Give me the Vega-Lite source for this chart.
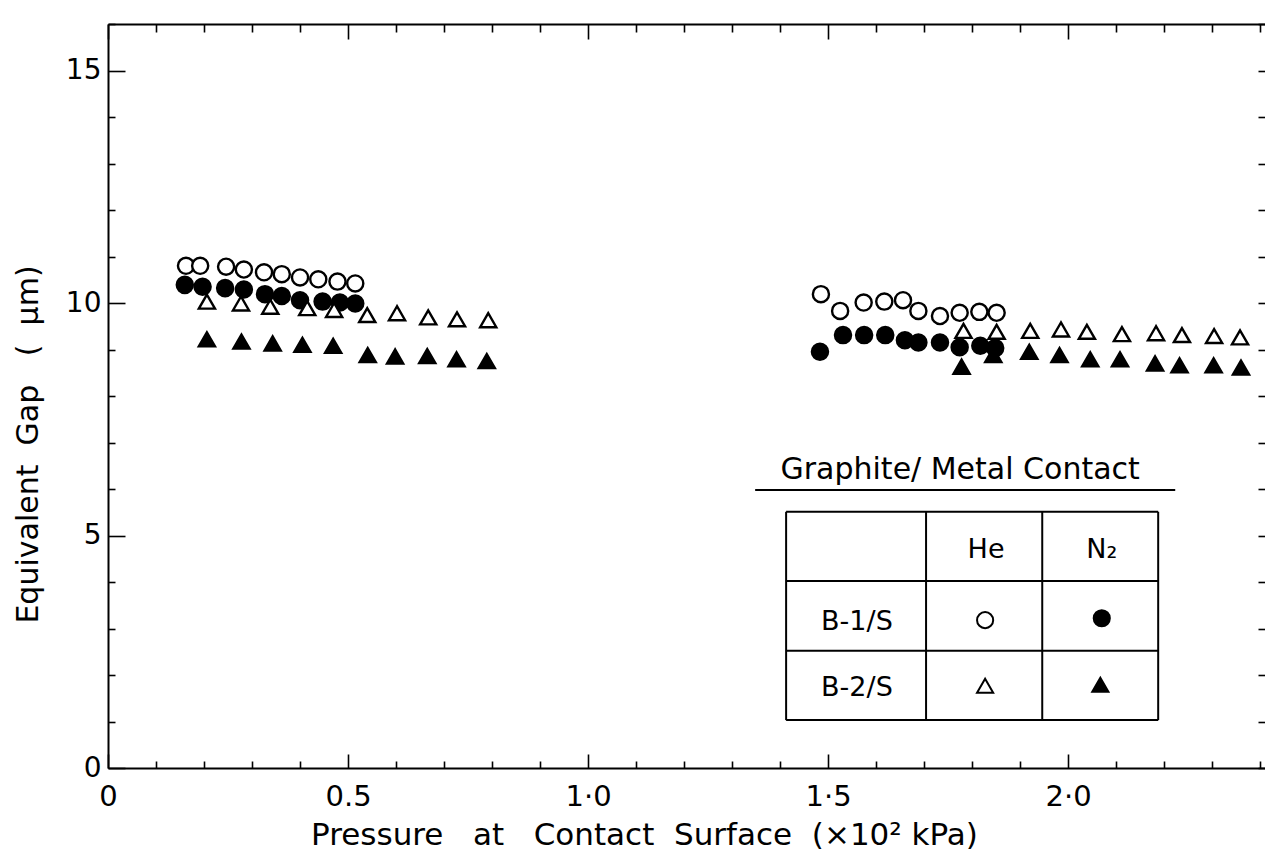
{
  "$schema": "https://vega.github.io/schema/vega-lite/v6.json",
  "width": 1157,
  "height": 744,
  "padding": {"left": 108, "top": 24, "right": 0, "bottom": 87},
  "autosize": {"type": "none"},
  "background": "white",
  "config": {
    "view": {"stroke": null},
    "font": "DejaVu Sans",
    "axis": {"grid": false, "domainColor": "black", "domainWidth": 2, "tickColor": "black", "tickWidth": 1.6, "labelColor": "black", "titleColor": "black", "labelFont": "DejaVu Sans", "titleFont": "DejaVu Sans", "labelFontWeight": "normal", "titleFontWeight": "normal", "labelOverlap": false, "labelFlush": false}
  },
  "datasets": {
    "pts": [
      {"p": 0.160, "gap": 10.39, "s": "B-1/S N2"}, {"p": 0.197, "gap": 10.35, "s": "B-1/S N2"}, {"p": 0.244, "gap": 10.32, "s": "B-1/S N2"}, {"p": 0.283, "gap": 10.29, "s": "B-1/S N2"}, {"p": 0.327, "gap": 10.19, "s": "B-1/S N2"}, {"p": 0.362, "gap": 10.15, "s": "B-1/S N2"}, {"p": 0.400, "gap": 10.06, "s": "B-1/S N2"}, {"p": 0.447, "gap": 10.03, "s": "B-1/S N2"}, {"p": 0.483, "gap": 10.01, "s": "B-1/S N2"}, {"p": 0.515, "gap": 9.99, "s": "B-1/S N2"},
      {"p": 1.483, "gap": 8.95, "s": "B-1/S N2"}, {"p": 1.531, "gap": 9.31, "s": "B-1/S N2"}, {"p": 1.575, "gap": 9.31, "s": "B-1/S N2"}, {"p": 1.619, "gap": 9.31, "s": "B-1/S N2"}, {"p": 1.660, "gap": 9.20, "s": "B-1/S N2"}, {"p": 1.688, "gap": 9.15, "s": "B-1/S N2"}, {"p": 1.733, "gap": 9.15, "s": "B-1/S N2"}, {"p": 1.774, "gap": 9.05, "s": "B-1/S N2"}, {"p": 1.817, "gap": 9.08, "s": "B-1/S N2"}, {"p": 1.848, "gap": 9.03, "s": "B-1/S N2"},
      {"p": 0.206, "gap": 9.22, "s": "B-2/S N2"}, {"p": 0.278, "gap": 9.17, "s": "B-2/S N2"}, {"p": 0.343, "gap": 9.13, "s": "B-2/S N2"}, {"p": 0.405, "gap": 9.10, "s": "B-2/S N2"}, {"p": 0.469, "gap": 9.08, "s": "B-2/S N2"}, {"p": 0.541, "gap": 8.88, "s": "B-2/S N2"}, {"p": 0.598, "gap": 8.85, "s": "B-2/S N2"}, {"p": 0.665, "gap": 8.86, "s": "B-2/S N2"}, {"p": 0.726, "gap": 8.79, "s": "B-2/S N2"}, {"p": 0.789, "gap": 8.75, "s": "B-2/S N2"},
      {"p": 1.778, "gap": 8.63, "s": "B-2/S N2"}, {"p": 1.844, "gap": 8.88, "s": "B-2/S N2"}, {"p": 1.919, "gap": 8.95, "s": "B-2/S N2"}, {"p": 1.982, "gap": 8.88, "s": "B-2/S N2"}, {"p": 2.046, "gap": 8.79, "s": "B-2/S N2"}, {"p": 2.108, "gap": 8.79, "s": "B-2/S N2"}, {"p": 2.181, "gap": 8.70, "s": "B-2/S N2"}, {"p": 2.232, "gap": 8.66, "s": "B-2/S N2"}, {"p": 2.303, "gap": 8.66, "s": "B-2/S N2"}, {"p": 2.360, "gap": 8.61, "s": "B-2/S N2"},
      {"p": 0.1625, "gap": 10.80, "s": "B-1/S He"}, {"p": 0.192, "gap": 10.80, "s": "B-1/S He"}, {"p": 0.246, "gap": 10.78, "s": "B-1/S He"}, {"p": 0.283, "gap": 10.72, "s": "B-1/S He"}, {"p": 0.325, "gap": 10.66, "s": "B-1/S He"}, {"p": 0.362, "gap": 10.62, "s": "B-1/S He"}, {"p": 0.400, "gap": 10.55, "s": "B-1/S He"}, {"p": 0.438, "gap": 10.51, "s": "B-1/S He"}, {"p": 0.478, "gap": 10.46, "s": "B-1/S He"}, {"p": 0.515, "gap": 10.42, "s": "B-1/S He"},
      {"p": 1.485, "gap": 10.19, "s": "B-1/S He"}, {"p": 1.525, "gap": 9.83, "s": "B-1/S He"}, {"p": 1.574, "gap": 10.01, "s": "B-1/S He"}, {"p": 1.617, "gap": 10.03, "s": "B-1/S He"}, {"p": 1.656, "gap": 10.06, "s": "B-1/S He"}, {"p": 1.688, "gap": 9.83, "s": "B-1/S He"}, {"p": 1.733, "gap": 9.72, "s": "B-1/S He"}, {"p": 1.774, "gap": 9.79, "s": "B-1/S He"}, {"p": 1.815, "gap": 9.81, "s": "B-1/S He"}, {"p": 1.851, "gap": 9.79, "s": "B-1/S He"},
      {"p": 0.206, "gap": 10.03, "s": "B-2/S He"}, {"p": 0.277, "gap": 9.99, "s": "B-2/S He"}, {"p": 0.338, "gap": 9.92, "s": "B-2/S He"}, {"p": 0.415, "gap": 9.89, "s": "B-2/S He"}, {"p": 0.471, "gap": 9.85, "s": "B-2/S He"}, {"p": 0.540, "gap": 9.74, "s": "B-2/S He"}, {"p": 0.602, "gap": 9.78, "s": "B-2/S He"}, {"p": 0.667, "gap": 9.69, "s": "B-2/S He"}, {"p": 0.727, "gap": 9.65, "s": "B-2/S He"}, {"p": 0.792, "gap": 9.63, "s": "B-2/S He"},
      {"p": 1.782, "gap": 9.40, "s": "B-2/S He"}, {"p": 1.851, "gap": 9.38, "s": "B-2/S He"}, {"p": 1.921, "gap": 9.40, "s": "B-2/S He"}, {"p": 1.985, "gap": 9.43, "s": "B-2/S He"}, {"p": 2.039, "gap": 9.38, "s": "B-2/S He"}, {"p": 2.112, "gap": 9.33, "s": "B-2/S He"}, {"p": 2.183, "gap": 9.35, "s": "B-2/S He"}, {"p": 2.237, "gap": 9.31, "s": "B-2/S He"}, {"p": 2.304, "gap": 9.29, "s": "B-2/S He"}, {"p": 2.358, "gap": 9.26, "s": "B-2/S He"}
    ],
    "lines": [
      {"x1": 1.348, "x2": 2.223, "y1": 5.98, "y2": 5.98},
      {"x1": 1.4125, "x2": 2.1875, "y1": 5.51, "y2": 5.51},
      {"x1": 1.4125, "x2": 2.1875, "y1": 4.02, "y2": 4.02},
      {"x1": 1.4125, "x2": 2.1875, "y1": 2.52, "y2": 2.52},
      {"x1": 1.4125, "x2": 2.1875, "y1": 1.03, "y2": 1.03},
      {"x1": 1.4125, "x2": 1.4125, "y1": 1.03, "y2": 5.51},
      {"x1": 1.704, "x2": 1.704, "y1": 1.03, "y2": 5.51},
      {"x1": 1.946, "x2": 1.946, "y1": 1.03, "y2": 5.51},
      {"x1": 2.1875, "x2": 2.1875, "y1": 1.03, "y2": 5.51}
    ],
    "cells": [
      {"x": 1.829, "y": 4.69, "t": "He"},
      {"x": 2.070, "y": 4.69, "t": "N₂"},
      {"x": 1.560, "y": 3.14, "t": "B-1/S"},
      {"x": 1.560, "y": 1.73, "t": "B-2/S"}
    ],
    "head": [
      {"x": 1.775, "y": 6.22, "t": "Graphite/ Metal Contact"}
    ],
    "keys": [
      {"x": 1.827, "y": 3.18, "s": "B-1/S He"},
      {"x": 2.070, "y": 3.22, "s": "B-1/S N2"},
      {"x": 1.827, "y": 1.77, "s": "B-2/S He"},
      {"x": 2.067, "y": 1.79, "s": "B-2/S N2"}
    ]
  },
  "resolve": {"axis": {"x": "independent", "y": "independent"}},
  "layer": [
    {
      "data": {"name": "pts"},
      "mark": {"type": "point", "strokeWidth": 2.4, "opacity": 1, "stroke": "black"},
      "encoding": {
        "x": {"field": "p", "type": "quantitative", "scale": {"domain": [0, 2.41], "nice": false, "zero": false},
          "axis": {"orient": "bottom", "title": "Pressure\u00a0\u00a0 at\u00a0\u00a0 Contact\u00a0 Surface\u00a0 (×10² kPa)", "titleFontSize": 31, "titleX": 536, "titleY": 76, "titleBaseline": "alphabetic", "labelFontSize": 29, "labelPadding": 28,
            "values": [0,0.1,0.2,0.3,0.4,0.5,0.6,0.7,0.8,0.9,1,1.1,1.2,1.3,1.4,1.5,1.6,1.7,1.8,1.9,2,2.1,2.2,2.3,2.4],
            "labelExpr": "abs(datum.value) < 0.001 ? '0' : abs(datum.value-0.5)<0.001 ? '0.5' : abs(datum.value-1)<0.001 ? '1·0' : abs(datum.value-1.5)<0.001 ? '1·5' : abs(datum.value-2)<0.001 ? '2·0' : ''",
            "tickSize": {"condition": {"test": "abs(datum.value*2 - round(datum.value*2)) < 0.001", "value": -14}, "value": -7}}},
        "y": {"field": "gap", "type": "quantitative", "scale": {"domain": [0, 16], "nice": false},
          "axis": {"orient": "left", "title": "Equivalent\u00a0 Gap\u00a0\u00a0 (\u00a0 μm)", "titleFontSize": 30, "titleX": -71, "titleY": 420, "titleBaseline": "alphabetic", "labelFontSize": 28, "labelPadding": 24,
            "values": [0,1,2,3,4,5,6,7,8,9,10,11,12,13,14,15,16],
            "labelExpr": "datum.value % 5 == 0 ? datum.label : ''",
            "tickSize": {"condition": {"test": "datum.value % 5 == 0", "value": -17}, "value": -7}}},
        "shape": {"field": "s", "type": "nominal", "scale": {"domain": ["B-1/S He", "B-1/S N2", "B-2/S He", "B-2/S N2"], "range": ["circle", "circle", "triangle-up", "triangle-up"]}, "legend": null},
        "size": {"field": "s", "type": "nominal", "scale": {"domain": ["B-1/S He", "B-1/S N2", "B-2/S He", "B-2/S N2"], "range": [260, 260, 540, 540]}, "legend": null},
        "fill": {"field": "s", "type": "nominal", "scale": {"domain": ["B-1/S He", "B-1/S N2", "B-2/S He", "B-2/S N2"], "range": ["white", "black", "white", "black"]}, "legend": null}
      }
    },
    {
      "data": {"name": "lines"},
      "mark": {"type": "rule", "color": "black", "strokeWidth": 2},
      "encoding": {
        "x": {"field": "x1", "type": "quantitative",
          "axis": {"orient": "top", "title": null, "labels": false,
            "values": [0,0.1,0.2,0.3,0.4,0.5,0.6,0.7,0.8,0.9,1,1.1,1.2,1.3,1.4,1.5,1.6,1.7,1.8,1.9,2,2.1,2.2,2.3,2.4],
            "tickSize": {"condition": {"test": "abs(datum.value*2 - round(datum.value*2)) < 0.001", "value": -15}, "value": -8}}},
        "x2": {"field": "x2"},
        "y": {"field": "y1", "type": "quantitative",
          "axis": {"orient": "right", "title": null, "labels": false, "domain": false,
            "values": [0,1,2,3,4,5,6,7,8,9,10,11,12,13,14,15,16],
            "tickSize": -7}},
        "y2": {"field": "y2"}
      }
    },
    {
      "data": {"name": "cells"},
      "mark": {"type": "text", "fontSize": 27, "font": "DejaVu Sans", "align": "center", "baseline": "middle", "color": "black"},
      "encoding": {
        "x": {"field": "x", "type": "quantitative", "axis": null},
        "y": {"field": "y", "type": "quantitative", "axis": null},
        "text": {"field": "t"}
      }
    },
    {
      "data": {"name": "head"},
      "mark": {"type": "text", "fontSize": 30, "font": "DejaVu Sans", "align": "center", "baseline": "alphabetic", "color": "black"},
      "encoding": {
        "x": {"field": "x", "type": "quantitative", "axis": null},
        "y": {"field": "y", "type": "quantitative", "axis": null},
        "text": {"field": "t"}
      }
    },
    {
      "data": {"name": "keys"},
      "mark": {"type": "point", "strokeWidth": 2, "opacity": 1, "stroke": "black"},
      "encoding": {
        "x": {"field": "x", "type": "quantitative", "axis": null},
        "y": {"field": "y", "type": "quantitative", "axis": null},
        "shape": {"field": "s", "type": "nominal", "legend": null},
        "size": {"field": "s", "type": "nominal", "scale": {"domain": ["B-1/S He", "B-1/S N2", "B-2/S He", "B-2/S N2"], "range": [150, 200, 260, 300]}, "legend": null},
        "fill": {"field": "s", "type": "nominal", "legend": null}
      }
    }
  ]
}
